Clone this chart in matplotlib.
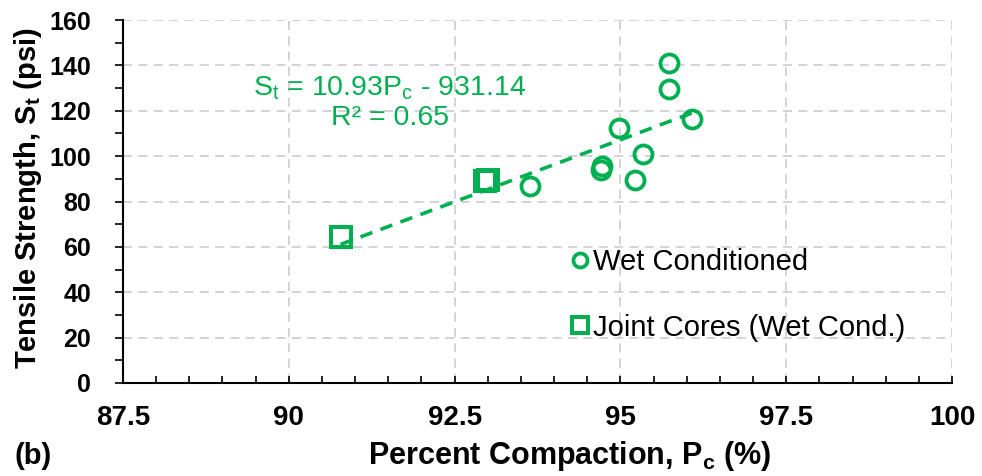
import matplotlib
matplotlib.use('Agg')
import matplotlib.pyplot as plt
import numpy as np

plt.rcParams['font.family'] = ['Liberation Sans', 'DejaVu Sans']
plt.rcParams['mathtext.fontset'] = 'custom'
plt.rcParams['mathtext.rm'] = 'Liberation Sans'
plt.rcParams['mathtext.bf'] = 'Liberation Sans:bold'

# data
wet_pc = [93.64, 94.70, 94.73, 94.98, 95.34, 95.22, 95.74, 95.74, 96.08]
wet_st = [86.8, 94.0, 95.5, 112.4, 100.9, 89.5, 141.0, 129.6, 116.3]
joint_pc = [90.78, 92.96, 93.00]
joint_st = [64.3, 89.0, 89.5]

# linear trend as printed on the chart
slope, intercept = 10.93, -931.14
fit_range = [90.78, 96.08]

x_ticks = [87.5, 90, 92.5, 95, 97.5, 100]
x_labels = ['87.5', '90', '92.5', '95', '97.5', '100']

green = '#00B050'

fig = plt.figure(figsize=(9.82, 4.76), dpi=100)
ax = fig.add_axes([123 / 982, 1 - 383 / 476, 829 / 982, 363 / 476])

ax.plot(wet_pc, wet_st, 'o', mfc='none', mec=green, mew=2.7, ms=13,
        label='Wet Conditioned', zorder=3)
ax.plot(joint_pc, joint_st, 's', mfc='none', mec=green, mew=2.9, ms=14,
        label='Joint Cores (Wet Cond.)', zorder=3)

xf = np.array(fit_range)
ax.plot(xf, slope * xf + intercept, '--', color=green, lw=2.6,
        dashes=(3.5, 2.4), zorder=2)

ax.text(0.322, 0.813, r'S$_\mathregular{t}$ = 10.93P$_\mathregular{c}$ - 931.14',
        transform=ax.transAxes, color=green, fontsize=20.5, ha='center', va='center')
ax.text(0.322, 0.73, 'R² = 0.65', transform=ax.transAxes, color=green,
        fontsize=20.5, ha='center', va='center')

ax.set_xlim(87.5, 100)
ax.set_ylim(0, 160)
ax.set_xticks(x_ticks)
ax.set_xticklabels(x_labels)
ax.set_xticks(np.arange(87.5, 100.01, 0.5), minor=True)
ax.set_yticks(range(0, 161, 20))
ax.set_yticks(range(0, 161, 10), minor=True)
ax.tick_params(axis='x', which='both', direction='in', length=5, width=1.2,
               labelsize=20, pad=16)
ax.tick_params(axis='y', which='both', direction='out', length=6, width=1.2,
               labelsize=18, pad=17)
for lab in ax.get_xticklabels() + ax.get_yticklabels():
    lab.set_fontweight('bold')
ax.grid(True, which='major', color='#d0d0d0', linestyle=(0, (5, 3.5)), lw=1.3)
ax.set_axisbelow(True)
for s in ['top', 'right']:
    ax.spines[s].set_visible(False)
for s in ['left', 'bottom']:
    ax.spines[s].set_linewidth(1.5)

fig.text(28 / 982, 1 - 198 / 476, r'Tensile Strength, S$_\mathbf{t}$ (psi)',
         fontsize=21, fontweight='bold', rotation=90, ha='center', va='center')
fig.text(570 / 982, 1 - 456 / 476, r'Percent Compaction, P$_\mathbf{c}$ (%)',
         fontsize=22, fontweight='bold', ha='center', va='center')
fig.text(15 / 982, 1 - 456 / 476, '(b)', fontsize=21, fontweight='bold',
         ha='left', va='center')

ax.legend(loc='center left', bbox_to_anchor=((571 - 123) / 829, (383 - 295) / 363),
          frameon=False, fontsize=21, handletextpad=0.15, labelspacing=1.28,
          handlelength=0.6, borderpad=0, borderaxespad=0, markerscale=0.78)

fig.savefig('out.png', dpi=100)
